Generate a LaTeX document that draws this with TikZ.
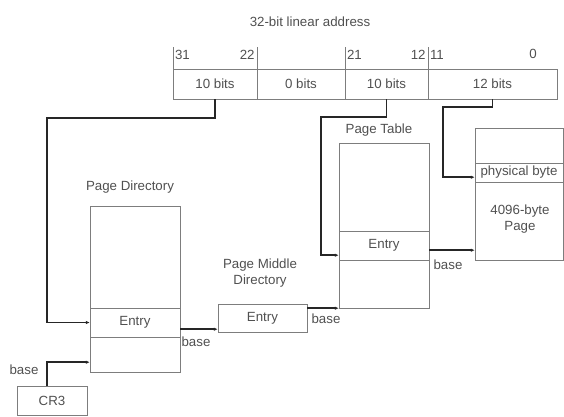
\documentclass[tikz,border=0pt]{standalone}
\usepackage{fontspec}
\setmainfont{Liberation Sans}
\usetikzlibrary{arrows.meta, positioning, calc}
\definecolor{boxgray}{RGB}{125,125,125}
\definecolor{textgray}{RGB}{80,80,80}

\begin{document}
\begin{tikzpicture}[x=1pt, y=-1pt, >={Latex[length=4pt, width=3.5pt]},
  font=\fontsize{13.3}{15.5}\selectfont, text=textgray,
  field/.style={draw=boxgray, minimum height=30pt, inner sep=0pt},
  tablebox/.style={draw=boxgray, inner sep=0pt},
  tick/.style={boxgray},
  conn/.style={->, line width=1.6pt, black!85}]
  \useasboundingbox (0,0) rectangle (564,416);

  % Linear address
  \node (title) at (310,22) {32-bit linear address};
  \node[field, minimum width=84pt]  (f1) at (215,84)   {10 bits};
  \node[field, minimum width=88pt]  (f2) at (301,84)   {0 bits};
  \node[field, minimum width=83pt]  (f3) at (386.5,84) {10 bits};
  \node[field, minimum width=129pt] (f4) at (492.5,84) {12 bits};
  \foreach \f in {f1, f2, f3, f4} {
    \draw[tick] (\f.north west) -- ++(0,-22);
  }

  % Bit numbers
  \node[right, inner sep=2pt] (b31) at (f1.north west) [yshift=14pt] {31};
  \node[left, inner sep=2pt]  (b22) at (f2.north west) [yshift=14pt] {22};
  \node[right, inner sep=2pt] (b21) at (f3.north west) [yshift=14pt] {21};
  \node[left, inner sep=2pt]  (b12) at (f4.north west) [yshift=14pt] {12};
  \node[right, inner sep=2pt] (b11) at (f4.north west) [yshift=14pt] {11};
  \node (b0) at (533,54) {0};

  % Page Directory
  \node (pdlabel) at (130,187) {Page Directory};
  \node[tablebox, minimum width=90pt, minimum height=166pt] (pd) at (135,289) {};
  \node[tablebox, minimum width=90pt, minimum height=29pt] (pdentry) at (135,322.5) {Entry};

  % Page Middle Directory
  \node[align=center] (pmdlabel) at (260,273) {Page Middle\\Directory};
  \node[tablebox, minimum width=89pt, minimum height=28pt] (pmd) at (262.5,318) {Entry};

  % Page Table
  \node (ptlabel) at (379,130) {Page Table};
  \node[tablebox, minimum width=90pt, minimum height=165pt] (pt) at (384,225.5) {};
  \node[tablebox, minimum width=90pt, minimum height=29pt] (ptentry) at (384,245.5) {Entry};

  % Page
  \node[tablebox, minimum width=88pt, minimum height=132pt] (page) at (519,194) {};
  \node[tablebox, minimum width=88pt, minimum height=19pt] (pagebyte) at (519,172.5) {physical byte};
  \node[align=center] (pagelabel) at (520,219) {4096-byte\\Page};

  % CR3
  \node[tablebox, minimum width=70pt, minimum height=29pt] (cr3) at (52,401) {CR3};

  % Offsets from the linear address
  \coordinate (bend1) at (47,118);
  \coordinate (bend2) at (321,117);
  \coordinate (bend3) at (443,107);
  \coordinate (ptin) at ($(ptentry.south west)+(0,-5)$);
  \coordinate (bytein) at ($(pagebyte.south west)+(0,-5)$);
  \draw[conn] (f1.south) |- (bend1) |- (pdentry.west);
  \draw[conn] (f3.south) |- (bend2) |- (ptin);
  \draw[conn] (f4.south) |- (bend3) |- (bytein);

  % Base pointers
  \coordinate (cr3out) at ($(cr3.north)+(-5,0)$);
  \coordinate (pdin) at ($(pd.south west)+(0,-10)$);
  \coordinate (pmdin) at ($(pmd.south west)+(0,-3)$);
  \coordinate (pagein) at ($(page.south west)+(0,-10)$);
  \draw[conn] (cr3out) |- (pdin);
  \draw[conn] (pdentry.east |- pmdin) -- (pmdin);
  \draw[conn] (pmd.east |- pt.south west) -- (pt.south west);
  \draw[conn] (ptentry.east |- pagein) -- (pagein);

  \node (base1) at (24,370)  {base};
  \node (base2) at (196,342) {base};
  \node (base3) at (326,319) {base};
  \node (base4) at (448,265) {base};
\end{tikzpicture}
\end{document}
